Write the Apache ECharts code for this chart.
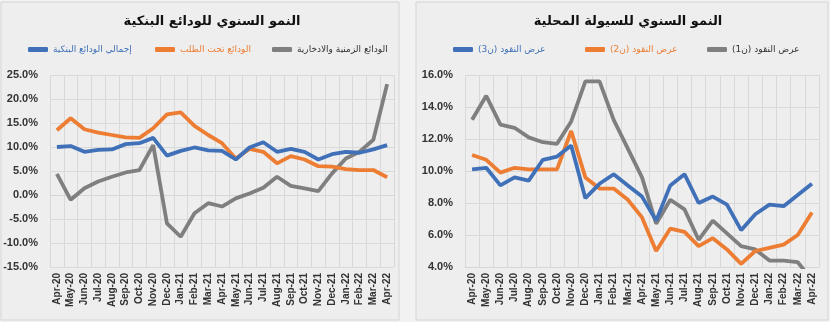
<!DOCTYPE html>
<html><head><meta charset="utf-8">
<script src="https://cdn.jsdelivr.net/npm/echarts@6/dist/echarts.min.js"></script>
<style>html,body{margin:0;padding:0;background:#f2f2f2}#c{width:830px;height:322px}</style>
</head><body><div id="c"></div>
<script>
const categories = ['Apr-20','May-20','Jun-20','Jul-20','Aug-20','Sep-20','Oct-20','Nov-20','Dec-20','Jan-21','Feb-21','Mar-21','Apr-21','May-21','Jun-21','Jul-21','Aug-21','Sep-21','Oct-21','Nov-21','Dec-21','Jan-22','Feb-22','Mar-22','Apr-22'];
// Left chart: bank deposits annual growth (%)
const depTotal  = [10.0,10.2,9.0,9.4,9.5,10.6,10.8,11.9,8.2,9.2,9.9,9.3,9.2,7.4,9.9,11.0,9.0,9.6,9.0,7.4,8.5,9.0,8.8,9.5,10.4];
const depDemand = [13.5,16.0,13.7,13.0,12.5,12.0,11.9,13.9,16.8,17.2,14.4,12.5,10.8,7.6,9.6,9.0,6.6,8.1,7.4,6.0,5.9,5.4,5.2,5.2,3.7];
const depTime   = [4.4,-1.0,1.4,2.8,3.8,4.7,5.2,10.4,-5.9,-8.7,-3.8,-1.7,-2.4,-0.7,0.3,1.5,3.8,1.9,1.4,0.8,4.5,7.6,9.0,11.5,23.1];
// Right chart: local liquidity annual growth (%)
const m3 = [10.1,10.2,9.1,9.6,9.4,10.7,10.9,11.6,8.3,9.2,9.8,9.1,8.4,6.9,9.1,9.8,8.0,8.4,7.9,6.3,7.3,7.9,7.8,8.5,9.2];
const m2 = [11.0,10.7,9.9,10.2,10.1,10.1,10.1,12.5,9.6,8.9,8.9,8.2,7.1,5.0,6.4,6.2,5.3,5.8,5.1,4.2,5.0,5.2,5.4,6.0,7.4];
const m1 = [13.2,14.7,12.9,12.7,12.1,11.8,11.7,13.1,15.6,15.6,13.2,11.4,9.6,6.7,8.2,7.6,5.7,6.9,6.1,5.3,5.1,4.4,4.4,4.3,3.2];

const titleLeft = 'النمو السنوي للودائع البنكية';
const titleRight = 'النمو السنوي للسيولة المحلية';
const namesLeft = ['إجمالي الودائع البنكية','الودائع تحت الطلب','الودائع الزمنية والادخارية'];
const namesRight = ['عرض النقود (ن3)','عرض النقود (ن2)','عرض النقود (ن1)'];

const BLUE = '#3f70b8', ORANGE = '#ec7d33', GRAY = '#7f7f7f';
const AR = '"DejaVu Sans", "Noto Sans", sans-serif';
const NUM = '"Liberation Sans", Arial, sans-serif';

const chart = echarts.init(document.getElementById('c'), null, {renderer:'canvas'});

function xAx(gi){
  return {type:'category', gridIndex:gi, data:categories, boundaryGap:true,
    axisLine:{show:true, lineStyle:{color:'#d6d6d6'}}, axisTick:{show:false},
    axisLabel:{rotate:90, interval:0, margin:6, fontSize:10, fontWeight:'bold', color:'#333', fontFamily:NUM},
    splitLine:{show:true, interval:0, lineStyle:{color:'#d9d9d9', width:1}}};
}
function yAx(gi,min,max,itv){
  return {type:'value', gridIndex:gi, min:min, max:max, interval:itv,
    axisLine:{show:false}, axisTick:{show:false},
    axisLabel:{formatter:v=>v.toFixed(1)+'%', fontSize:11, fontWeight:'bold', color:'#333', margin:12, fontFamily:NUM},
    splitLine:{show:true, lineStyle:{color:'#d9d9d9', width:1}}};
}
function ser(name, data, color, gi){
  return {name:name, type:'line', xAxisIndex:gi, yAxisIndex:gi, data:data, showSymbol:false, symbol:'none',
    clip:true, lineStyle:{color:color, width:3.8}, itemStyle:{color:color}, smooth:false};
}
function leg(name, color, left){
  return {data:[{name:name}], left:left, top:40, itemWidth:20, itemHeight:5, icon:'roundRect',
    textStyle:{fontSize:9, fontFamily:AR, color:color}, width:200};
}

chart.setOption({
  animation:false,
  backgroundColor:'#f2f2f2',
  graphic:[
    {type:'rect', shape:{x:1,y:2,width:398,height:318}, style:{fill:'#eeeeee', stroke:'#d4d4d4', lineWidth:1}, z:-10},
    {type:'rect', shape:{x:416,y:2,width:412,height:318}, style:{fill:'#eeeeee', stroke:'#d4d4d4', lineWidth:1}, z:-10}
  ],
  title:[
    {text:titleLeft, left:207, top:10, textAlign:'center', textStyle:{fontSize:13, fontWeight:'bold', color:'#111', fontFamily:AR}},
    {text:titleRight, left:623, top:10, textAlign:'center', textStyle:{fontSize:13, fontWeight:'bold', color:'#111', fontFamily:AR}}
  ],
  legend:[
    leg(namesLeft[0], BLUE, 23),
    leg(namesLeft[1], ORANGE, 150),
    leg(namesLeft[2], '#333', 267),
    leg(namesRight[0], BLUE, 448),
    leg(namesRight[1], ORANGE, 580),
    leg(namesRight[2], '#333', 702)
  ],
  grid:[
    {left:50, top:75, width:344, height:192},
    {left:465, top:75, width:354, height:192}
  ],
  xAxis:[xAx(0), xAx(1)],
  yAxis:[yAx(0,-15,25,5), yAx(1,4,16,2)],
  series:[
    ser(namesLeft[2], depTime, GRAY, 0),
    ser(namesLeft[1], depDemand, ORANGE, 0),
    ser(namesLeft[0], depTotal, BLUE, 0),
    ser(namesRight[2], m1, GRAY, 1),
    ser(namesRight[1], m2, ORANGE, 1),
    ser(namesRight[0], m3, BLUE, 1)
  ]
});
</script></body></html>
